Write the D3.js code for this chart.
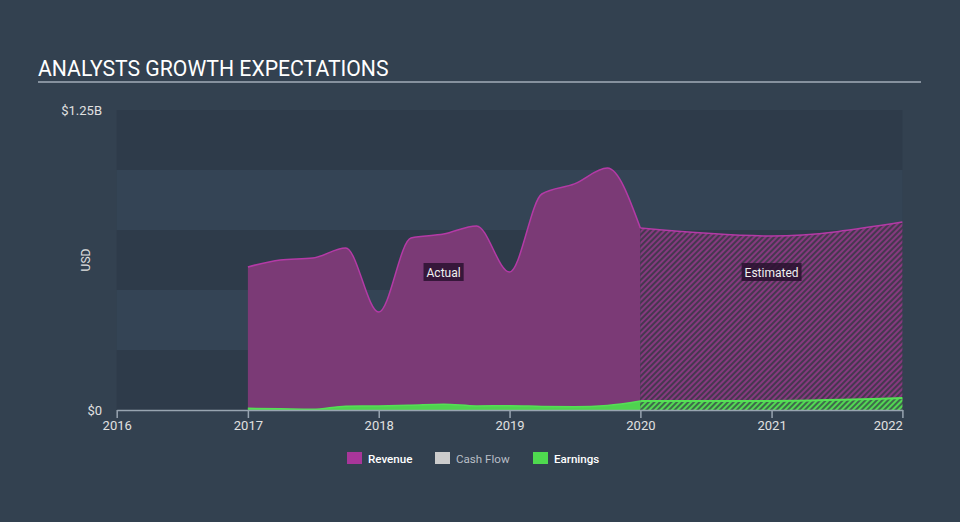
<!DOCTYPE html>
<html>
<head>
<meta charset="utf-8">
<script src="https://cdn.jsdelivr.net/npm/d3@7/dist/d3.min.js"></script>
<style>
  html, body { margin: 0; padding: 0; background: #334150; }
  svg { display: block; font-family: Roboto, "Noto Sans", sans-serif; }
</style>
</head>
<body>
<svg id="chart" width="960" height="522"></svg>
<script>
// ---- data ----
const actualDates = ["2017-01-01","2017-04-01","2017-07-01","2017-10-01","2018-01-01","2018-04-01","2018-07-01","2018-10-01","2019-01-01","2019-04-01","2019-07-01","2019-10-01","2020-01-01"];
const actualRevenue = [0.596, 0.625, 0.633, 0.675, 0.408, 0.717, 0.733, 0.767, 0.575, 0.900, 0.942, 1.008, 0.758];
const actualEarnings = [0.007, 0.005, 0.003, 0.016, 0.017, 0.020, 0.024, 0.017, 0.018, 0.015, 0.014, 0.019, 0.0375];
const estimateDates = ["2020-01-01","2021-01-01","2022-01-01"];
const estimateRevenue = [0.758, 0.725, 0.783];
const estimateEarnings = [0.0375, 0.038, 0.05];
const yTickValues = [0, 1.25];
const yTickLabels = ["$0", "$1.25B"];
const xTickYears = [2016, 2017, 2018, 2019, 2020, 2021, 2022];
const legendItems = ["Revenue", "Cash Flow", "Earnings"];

// ---- setup ----
const svg = d3.select("#chart");
const W = 960, H = 522;
const pL = 116.7, pR = 902.4, pT = 110, pB = 410;
const parse = d3.timeParse("%Y-%m-%d");

const x = d3.scaleTime()
  .domain([new Date(2016, 0, 1), new Date(2022, 0, 1)])
  .range([pL, pR]);
const y = d3.scaleLinear().domain([0, 1.25]).range([pB, pT]);

svg.append("rect").attr("width", W).attr("height", H).attr("fill", "#334150");

// defs: hatch patterns
const defs = svg.append("defs");
function hatch(id, bg, line) {
  const p = defs.append("pattern").attr("id", id)
    .attr("patternUnits", "userSpaceOnUse").attr("width", 4).attr("height", 4)
    .attr("patternTransform", "rotate(45)");
  p.append("rect").attr("width", 4).attr("height", 4).attr("fill", bg);
  p.append("rect").attr("x", 0).attr("y", 0).attr("width", 2).attr("height", 4).attr("fill", line);
}
hatch("hatchRev", "#45384f", "#86397f");
hatch("hatchEarn", "#3f6a4c", "#52d852");

// title
svg.append("text").attr("x", 38).attr("y", 76)
  .attr("fill", "#ffffff").attr("font-size", 21.2).attr("font-weight", 400)
  .text("ANALYSTS GROWTH EXPECTATIONS");
svg.append("line").attr("x1", 38).attr("x2", 921).attr("y1", 82).attr("y2", 82)
  .attr("stroke", "#a3adb8").attr("stroke-width", 1.5);

// background bands
const bandStep = 0.25;
const bands = d3.range(0, 5);
svg.append("g").selectAll("rect").data(bands).enter().append("rect")
  .attr("x", pL).attr("width", pR - pL)
  .attr("y", d => y((d + 1) * bandStep))
  .attr("height", d => y(d * bandStep) - y((d + 1) * bandStep))
  .attr("fill", d => d % 2 === 0 ? "#2e3b4a" : "#34475a")
  .attr("opacity", d => d % 2 === 0 ? 1 : 0.55);

// series
const actual = actualDates.map((d, i) => ({ date: parse(d), rev: actualRevenue[i], earn: actualEarnings[i] }));
const est = estimateDates.map((d, i) => ({ date: parse(d), rev: estimateRevenue[i], earn: estimateEarnings[i] }));

const curve = d3.curveMonotoneX;
const revArea = d3.area().x(d => x(d.date)).y0(y(0)).y1(d => y(d.rev)).curve(curve);
const revLine = d3.line().x(d => x(d.date)).y(d => y(d.rev)).curve(curve);
const earnArea = d3.area().x(d => x(d.date)).y0(y(0)).y1(d => y(d.earn)).curve(curve);
const earnLine = d3.line().x(d => x(d.date)).y(d => y(d.earn)).curve(curve);

// actual revenue
svg.append("path").datum(actual).attr("d", revArea).attr("fill", "#7b3a76");
svg.append("path").datum(actual).attr("d", revLine).attr("fill", "none")
  .attr("stroke", "#b43aa6").attr("stroke-width", 1.5);
// estimated revenue
svg.append("path").datum(est).attr("d", revArea).attr("fill", "url(#hatchRev)");
svg.append("path").datum(est).attr("d", revLine).attr("fill", "none")
  .attr("stroke", "#b43aa6").attr("stroke-width", 1.5);

// earnings
svg.append("path").datum(actual).attr("d", earnArea).attr("fill", "#4fd34f");
svg.append("path").datum(actual).attr("d", earnLine).attr("fill", "none")
  .attr("stroke", "#55e055").attr("stroke-width", 1.5);
svg.append("path").datum(est).attr("d", earnArea).attr("fill", "url(#hatchEarn)");
svg.append("path").datum(est).attr("d", earnLine).attr("fill", "none")
  .attr("stroke", "#55e055").attr("stroke-width", 2);

// labels Actual / Estimated
function tag(cx, cy, txt) {
  const g = svg.append("g");
  const t = g.append("text").attr("x", cx).attr("y", cy + 4.5)
    .attr("text-anchor", "middle").attr("fill", "#f0f0f0").attr("font-size", 12).text(txt);
  const bb = t.node().getBBox();
  g.insert("rect", "text").attr("x", bb.x - 3).attr("y", cy - 9).attr("width", bb.width + 6).attr("height", 18)
    .attr("fill", "#2a1230").attr("opacity", 0.85);
}
tag(x(parse("2018-07-01")), 272, "Actual");
tag(x(parse("2021-01-01")), 272, "Estimated");

// x axis
const xAxis = d3.axisBottom(x)
  .tickValues(xTickYears.map(yv => new Date(yv, 0, 1)))
  .tickFormat(d3.timeFormat("%Y"))
  .tickSizeInner(8).tickSizeOuter(0).tickPadding(3);
const gx = svg.append("g").attr("transform", `translate(0,${pB})`).call(xAxis);
gx.select(".domain").attr("stroke", "#98a4b0").attr("stroke-width", 1.5);
gx.selectAll(".tick line").attr("stroke", "#98a4b0").attr("stroke-width", 1.5);
gx.selectAll(".tick text").attr("fill", "#e0e0e0").attr("font-size", 13)
  .attr("font-family", "Roboto, sans-serif");
gx.selectAll(".tick text").filter((d, i) => i === xTickYears.length - 1).attr("text-anchor", "end");

// y labels
svg.append("g").selectAll("text").data(yTickValues).enter().append("text")
  .attr("x", 102).attr("y", d => y(d) + 4.5)
  .attr("text-anchor", "end").attr("fill", "#e0e0e0").attr("font-size", 13)
  .text((d, i) => yTickLabels[i]);
svg.append("text").attr("transform", `translate(90,260) rotate(-90)`)
  .attr("text-anchor", "middle").attr("fill", "#e0e0e0").attr("font-size", 12).text("USD");

// legend
const legendColors = ["#a8369a", "#cccccc", "#4fd94f"];
const legendX = [347, 435, 533];
const lg = svg.append("g");
legendItems.forEach((name, i) => {
  lg.append("rect").attr("x", legendX[i]).attr("y", 452).attr("width", 15).attr("height", 12)
    .attr("fill", legendColors[i]);
  lg.append("text").attr("x", legendX[i] + 21).attr("y", 462.5)
    .attr("fill", i === 1 ? "#b8bec6" : "#ffffff")
    .attr("font-size", 11.6).attr("font-weight", i === 1 ? 400 : 500)
    .text(name);
});
</script>
</body>
</html>
